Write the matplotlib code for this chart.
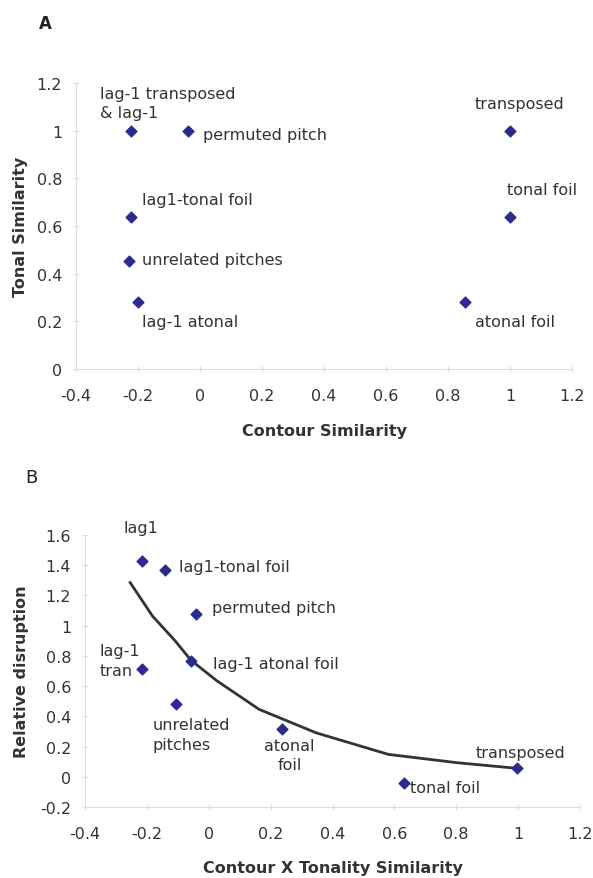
import matplotlib
matplotlib.use('Agg')
import matplotlib.pyplot as plt

# Panel A: contour vs tonal similarity
a_x = [-0.224, -0.039, 1.0, -0.224, 1.0, -0.229, -0.2, 0.855]
a_y = [1.0, 1.0, 1.0, 0.638, 0.638, 0.453, 0.282, 0.282]
a_labels = ['lag-1 transposed\n& lag-1', 'permuted pitch', 'transposed',
            'lag1-tonal foil', 'tonal foil', 'unrelated pitches',
            'lag-1 atonal', 'atonal foil']
a_label_x = [-0.323, 0.01, 0.886, -0.187, 0.99, -0.187, -0.187, 0.886]
a_label_y = [1.116, 0.984, 1.116, 0.712, 0.753, 0.458, 0.2, 0.2]

# Panel B: contour x tonality similarity vs relative disruption
b_x = [-0.217, -0.143, -0.04, -0.217, -0.057, -0.106, 0.236, 0.63, 0.996]
b_y = [1.428, 1.366, 1.08, 0.71, 0.766, 0.479, 0.318, -0.04, 0.056]
b_labels = ['lag1', 'lag1-tonal foil', 'permuted pitch', 'lag-1\ntran',
            'lag-1 atonal foil', 'unrelated\npitches', 'atonal\nfoil',
            'tonal foil', 'transposed']
b_label_x = [-0.275, -0.096, 0.009, -0.352, 0.015, -0.182, 0.261, 0.652, 0.862]
b_label_y = [1.652, 1.389, 1.119, 0.77, 0.748, 0.28, 0.146, -0.074, 0.162]
b_label_ha = ['left', 'left', 'left', 'left', 'left', 'left', 'center', 'left', 'left']

# trend line in panel B
trend_x = [-0.254, -0.182, -0.108, -0.057, 0.027, 0.163, 0.347, 0.581, 0.803, 0.996]
trend_y = [1.285, 1.064, 0.898, 0.77, 0.634, 0.446, 0.291, 0.148, 0.093, 0.056]

x_ticks = [-0.4, -0.2, 0, 0.2, 0.4, 0.6, 0.8, 1, 1.2]
a_y_ticks = [0, 0.2, 0.4, 0.6, 0.8, 1, 1.2]
b_y_ticks = [-0.2, 0, 0.2, 0.4, 0.6, 0.8, 1, 1.2, 1.4, 1.6]

MARK = '#2b2b8f'
TXT = '#333333'
FS = 11.5


def fmt(v):
    s = ('%g' % v)
    return '0' if s == '-0' else s


def style_axes(ax, yticks, ylim):
    ax.set_xlim(-0.4, 1.2)
    ax.set_ylim(*ylim)
    ax.set_xticks(x_ticks)
    ax.set_xticklabels([fmt(v) for v in x_ticks])
    ax.set_yticks(yticks)
    ax.set_yticklabels([fmt(v) for v in yticks])
    for s in ['top', 'right']:
        ax.spines[s].set_visible(False)
    for s in ['left', 'bottom']:
        ax.spines[s].set_color('#dddddd')
    ax.tick_params(axis='both', colors='#dddddd', labelcolor=TXT,
                   labelsize=FS, length=4, direction='inout')
    ax.tick_params(axis='x', pad=12)
    ax.tick_params(axis='y', pad=8)


fig = plt.figure(figsize=(5.93, 8.79), dpi=100)

axA = fig.add_axes([76 / 593, 1 - 370 / 879, 496 / 593, 286 / 879])
style_axes(axA, a_y_ticks, (0, 1.2))
axA.scatter(a_x, a_y, marker='D', s=30, color=MARK, zorder=3, clip_on=False)
for lx, ly, t in zip(a_label_x, a_label_y, a_labels):
    axA.text(lx, ly, t, fontsize=FS, color=TXT, ha='left', va='center',
             linespacing=1.3, clip_on=False)
axA.set_xlabel('Contour Similarity', fontsize=FS, fontweight='bold', color=TXT)
axA.set_ylabel('Tonal Similarity', fontsize=FS, fontweight='bold', color=TXT)
axA.xaxis.set_label_coords(0.5, -0.189)
axA.yaxis.set_label_coords(-0.097, 0.5)
fig.text(45 / 593, 1 - 24 / 879, 'A', fontsize=12, fontweight='bold',
         color='#222222', ha='center', va='center')

axB = fig.add_axes([85 / 593, 1 - 808 / 879, 495 / 593, 272 / 879])
style_axes(axB, b_y_ticks, (-0.2, 1.6))
axB.plot(trend_x, trend_y, color='#333333', lw=2, zorder=2)
axB.scatter(b_x, b_y, marker='D', s=30, color=MARK, zorder=3, clip_on=False)
for lx, ly, t, ha in zip(b_label_x, b_label_y, b_labels, b_label_ha):
    axB.text(lx, ly, t, fontsize=FS, color=TXT, ha=ha, va='center',
             linespacing=1.35, clip_on=False)
axB.set_xlabel('Contour X Tonality Similarity', fontsize=FS, fontweight='bold',
               color=TXT)
axB.set_ylabel('Relative disruption', fontsize=FS, fontweight='bold', color=TXT)
axB.xaxis.set_label_coords(0.5, -0.195)
axB.yaxis.set_label_coords(-0.113, 0.5)
fig.text(31 / 593, 1 - 478 / 879, 'B', fontsize=13, color='#222222',
         ha='center', va='center')

fig.savefig('out.png', dpi=100)
